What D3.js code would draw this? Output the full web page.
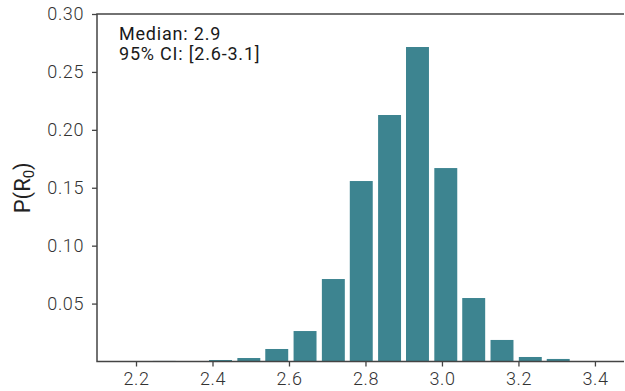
<!DOCTYPE html>
<html>
<head>
<meta charset="utf-8">
<script src="https://cdn.jsdelivr.net/npm/d3@7"></script>
<style>
  body { margin: 0; background: #fff; }
  svg { display: block; font-family: Roboto, sans-serif; }
</style>
</head>
<body>
<div id="chart"></div>
<script>
// histogram of R0 posterior samples (bin centres and probability mass)
const binCenters = [2.274, 2.348, 2.421, 2.495, 2.568, 2.642, 2.716, 2.789,
                    2.863, 2.936, 3.010, 3.083, 3.157, 3.231, 3.304];
const probs = [0.0005, 0.0, 0.0013, 0.003, 0.0108, 0.0263, 0.0712, 0.1558,
               0.2128, 0.2715, 0.167, 0.0548, 0.0186, 0.0039, 0.0022];
const xTicks = [2.2, 2.4, 2.6, 2.8, 3.0, 3.2, 3.4];
const yTicks = [0.05, 0.10, 0.15, 0.20, 0.25, 0.30];
const notes = ["Median: 2.9", "95% CI: [2.6-3.1]"];

const width = 625, height = 391;
const margin = {top: 14, right: 1, bottom: 29.5, left: 97};
const barWidth = 0.06;
const font = "Roboto, sans-serif";

const svg = d3.select("#chart").append("svg")
    .attr("width", width)
    .attr("height", height);

const x = d3.scaleLinear()
    .domain([2.098, 3.476])
    .range([margin.left, width - margin.right]);

const y = d3.scaleLinear()
    .domain([0, 0.30])
    .range([height - margin.bottom, margin.top]);

const data = binCenters.map((c, i) => ({c: c, p: probs[i]}));

svg.append("g")
    .attr("fill", "#3d8490")
    .selectAll("rect")
    .data(data)
    .join("rect")
    .attr("x", d => x(d.c - barWidth / 2))
    .attr("width", d => x(d.c + barWidth / 2) - x(d.c - barWidth / 2))
    .attr("y", d => y(d.p))
    .attr("height", d => y(0) - y(d.p));

const xAxis = svg.append("g")
    .attr("transform", `translate(0,${y(0)})`)
    .call(d3.axisBottom(x).tickValues(xTicks).tickFormat(d3.format(".1f")).tickSize(5).tickPadding(6));

const yAxis = svg.append("g")
    .attr("transform", `translate(${margin.left},0)`)
    .call(d3.axisLeft(y).tickValues(yTicks).tickFormat(d3.format(".2f")).tickSize(5).tickPadding(8));

[xAxis, yAxis].forEach(g => {
    g.select(".domain").remove();
    g.selectAll(".tick line").attr("stroke", "#444").attr("stroke-width", 1.3);
    g.selectAll(".tick text")
        .attr("fill", "#333")
        .attr("font-size", 18)
        .attr("font-weight", 300)
        .attr("letter-spacing", 0.6)
        .attr("font-family", font);
});

// spines: left, bottom, top
svg.append("path")
    .attr("fill", "none")
    .attr("stroke", "#444")
    .attr("stroke-width", 1.5)
    .attr("d", `M${width - margin.right},${y(0.30)}H${margin.left}V${y(0)}H${width - margin.right}`);

// y label with subscript
const yl = svg.append("text")
    .attr("transform", `translate(30,${(y(0) + y(0.30)) / 2}) rotate(-90)`)
    .attr("text-anchor", "middle")
    .attr("fill", "#222")
    .attr("font-family", font)
    .attr("font-size", 22)
    .attr("font-weight", 400);
yl.append("tspan").text("P(R");
yl.append("tspan").text("0").attr("font-size", 15).attr("dy", 4);
yl.append("tspan").text(")").attr("dy", -4);

svg.append("g")
    .selectAll("text")
    .data(notes)
    .join("text")
    .attr("x", 119)
    .attr("y", (d, i) => 40 + i * 20)
    .attr("fill", "#1a1a1a")
    .attr("font-family", font)
    .attr("font-size", 18)
    .attr("font-weight", 400)
    .attr("letter-spacing", 0.8)
    .text(d => d);
</script>
</body>
</html>
